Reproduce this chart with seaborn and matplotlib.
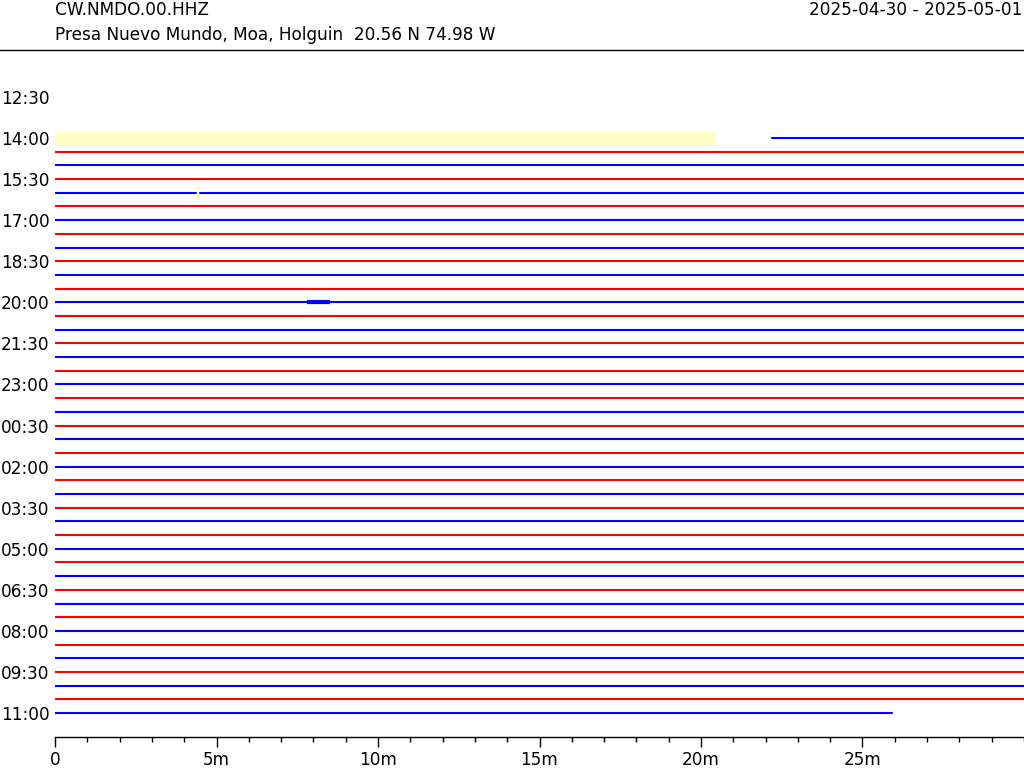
import pandas as pd
import matplotlib.pyplot as plt
import seaborn as sns
from matplotlib.lines import Line2D
from matplotlib.ticker import MultipleLocator

# Station / header text
station = 'CW.NMDO.00.HHZ'
location = 'Presa Nuevo Mundo, Moa, Holguin  20.56 N 74.98 W'
date_range = '2025-04-30 - 2025-05-01'

# Helicorder rows: one 30 minute trace per row, starting at 14:00
n_rows = 43
row_colors = ['blue' if r % 2 == 0 else 'red' for r in range(n_rows)]

# Data segments (row, start minute, end minute); gaps split the rows
first_row_start = 22.2
last_row_end = 25.9
gap_row, gap_start, gap_end = 4, 4.35, 4.5

# Highlighted (missing data) blocks: row, start, end
gaps = [(0, 0.0, 20.45), (4, 4.35, 4.5)]

# Short bursts of larger amplitude: row, start, end
bursts = [(12, 7.8, 8.5)]

# Y-axis labels every 1.5 h
tick_rows = list(range(-3, 43, 3))
tick_labels = ['12:30', '14:00', '15:30', '17:00', '18:30', '20:00', '21:30', '23:00',
               '00:30', '02:00', '03:30', '05:00', '06:30', '08:00', '09:30', '11:00']

# build segment table
segs = []
for r in range(n_rows):
    start, end = 0.0, 30.0
    if r == 0:
        start = first_row_start
    if r == n_rows - 1:
        end = last_row_end
    if r == gap_row:
        segs.append((r, start, gap_start))
        segs.append((r, gap_end, end))
    else:
        segs.append((r, start, end))

records = []
for i, (r, s, e) in enumerate(segs):
    for m in (s, e):
        records.append({'seg': i, 'row': r, 'minute': m, 'color': row_colors[r]})
df = pd.DataFrame(records)

sns.set_style('white')
plt.rcParams['font.family'] = ['DejaVu Sans']
plt.rcParams['font.size'] = 12.2
plt.rcParams['text.color'] = 'black'
plt.rcParams['xtick.color'] = 'black'
plt.rcParams['ytick.color'] = 'black'

fig = plt.figure(figsize=(10.24, 7.68), dpi=100)
ax = fig.add_axes([55 / 1024, 31 / 768, 969 / 1024, 687 / 768])

for r, s, e in gaps:
    ax.fill_between([s, e], r - 0.45, r + 0.5, color='#fffcc4', lw=0, zorder=1)

sns.lineplot(data=df, x='minute', y='row', hue='color', units='seg', estimator=None,
             palette={'red': 'red', 'blue': 'blue'}, sort=False, legend=False,
             lw=1.5, ax=ax, zorder=2)

for r, s, e in bursts:
    ax.plot([s, e], [r, r], color=row_colors[r], lw=3, solid_capstyle='butt', zorder=3)

ax.set_xlim(0, 30)
ax.set_ylim(43.75, -6.43)
ax.set_xlabel('')
ax.set_ylabel('')

ax.xaxis.set_minor_locator(MultipleLocator(1))
ax.set_xticks([0, 5, 10, 15, 20, 25])
ax.set_xticklabels(['0', '5m', '10m', '15m', '20m', '25m'])
ax.tick_params(axis='x', which='major', bottom=True, length=7, width=1, color='black', pad=3)
ax.tick_params(axis='x', which='minor', bottom=True, length=3.6, width=1, color='black')

ax.set_yticks(tick_rows)
ax.set_yticklabels(tick_labels, ha='left')
ax.tick_params(axis='y', left=False, length=0, pad=54 * 72 / 100)

for side in ['top', 'right', 'left']:
    ax.spines[side].set_visible(False)
ax.spines['bottom'].set_color('black')
ax.spines['bottom'].set_linewidth(1)

fig.text(55 / 1024, 1 - 10 / 768, station, ha='left', va='center')
fig.text(55 / 1024, 1 - 35 / 768, location, ha='left', va='center')
fig.text(1022 / 1024, 1 - 10 / 768, date_range, ha='right', va='center')
fig.add_artist(Line2D([0, 1], [1 - 50 / 768, 1 - 50 / 768], color='black', lw=1,
                      transform=fig.transFigure))

fig.savefig('out.png', dpi=100)
